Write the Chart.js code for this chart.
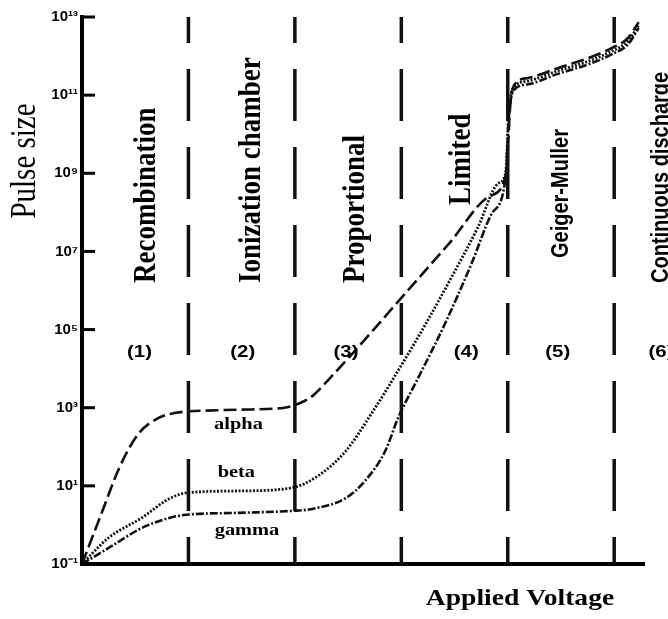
<!DOCTYPE html>
<html><head><meta charset="utf-8">
<script src="https://cdn.jsdelivr.net/npm/chart.js@4/dist/chart.umd.min.js"></script>
<style>html,body{margin:0;padding:0;background:#fff}</style>
</head><body>
<canvas id="c" width="668" height="619"></canvas>
<script>
// ---- data ----
const regionNames = ['Recombination','Ionization chamber','Proportional','Limited','Geiger-Muller','Continuous discharge'];
const regionNumbers = ['(1)','(2)','(3)','(4)','(5)','(6)'];
const boundaries = [1,2,3,4,5];
const tickValues = [0.1,10,1e3,1e5,1e7,1e9,1e11,1e13];
const tickLabels = ['10\u207B\u00B9','10\u00B9','10\u00B3','10\u2075','10\u2077','10\u2079','10\u00B9\u00B9','10\u00B9\u00B3'];
const seriesNames = ['alpha','beta','gamma'];

const alphaX = [0,0.19,0.35,0.53,0.72,0.88,0.98,1.47,1.90,2.05,2.17,2.33,2.52,2.99,3.46,3.83,3.99,4.02,4.06,4.19,4.47,4.76,4.98,5.13,5.23];
const alphaY = [0.1,2.2,28.8,214,550,741,794,891,1000,1320,2040,5750,2.1e4,6.0e5,1.74e7,2.6e8,1.07e9,4.2e10,1.8e11,2.75e11,4.9e11,8.9e11,1.62e12,2.9e12,7.4e12];
const betaX = [0,0.25,0.56,0.82,0.98,1.47,1.97,2.22,2.48,2.72,2.97,3.23,3.47,3.72,3.91,3.98,4.01,4.05,4.19,4.47,4.76,4.98,5.13,5.23];
const betaY = [0.1,0.47,1.51,4.68,6.6,7.4,8.9,18.2,79,708,8900,141000,2.14e6,4.17e7,5.5e8,1.0e9,3.5e10,1.5e11,2.3e11,4.2e11,7.4e11,1.35e12,2.4e12,6.2e12];
const gammaX = [0,0.25,0.56,0.82,0.98,1.47,1.97,2.16,2.48,2.66,2.85,2.97,3.16,3.41,3.66,3.85,3.98,4.01,4.05,4.19,4.47,4.76,4.98,5.13,5.23];
const gammaY = [0.1,0.257,0.83,1.51,1.82,2.04,2.29,2.57,4.9,13.5,79,550,5900,141000,4.9e6,9.3e7,7.9e8,2.75e10,1.26e11,1.9e11,3.5e11,6.2e11,1.12e12,2.0e12,5.2e12];

// ---- build ----
const pts = (xs, ys) => xs.map((x,i)=>({x:x, y:ys[i]}));
const boundarySets = boundaries.map(b => ({
  data:[{x:b,y:1e13},{x:b,y:0.1}],
  borderColor:'#111', borderWidth:3.5, borderDash:[52,26], borderDashOffset:26,
  pointRadius:0, tension:0
}));
const curve = (name, xs, ys, dash, w) => ({
  label:name, data:pts(xs,ys), borderColor:'#111', borderWidth:w, borderDash:dash,
  pointRadius:0, cubicInterpolationMode:'monotone', fill:false
});

const serif = 'Liberation Serif, Times New Roman, serif';
const sans = 'Liberation Sans, Arial, sans-serif';

const annot = {
  id:'annot',
  afterDraw(chart){
    const {ctx, chartArea:a, scales:{x,y}} = chart;
    ctx.save();
    ctx.fillStyle='#000'; ctx.strokeStyle='#000';
    // inner tick marks
    ctx.lineWidth=3;
    y.ticks.forEach(t=>{
      const py=y.getPixelForValue(t.value);
      ctx.beginPath(); ctx.moveTo(a.left, py); ctx.lineTo(a.left+13, py); ctx.stroke();
    });
    function txt(s, px, py, font, rot, align, sx){
      ctx.save(); ctx.translate(px,py); ctx.scale(sx,1);
      if(rot) ctx.rotate(-Math.PI/2);
      ctx.font=font; ctx.textAlign=align; ctx.textBaseline='middle';
      ctx.fillText(s,0,0); ctx.restore();
    }
    // region names (rotated)
    const rx=[0.61,1.59,2.57,3.57,4.5,5.44];
    const rb=[283,283,283,205,258,283];
    regionNames.forEach((n,i)=>{
      const f = i>=4 ? 'bold 20px '+sans : 'bold 27px '+serif;
      txt(n, x.getPixelForValue(rx[i]), rb[i], f, true, 'left', 1.2);
    });
    // region numbers
    const nx=[0.54,1.51,2.48,3.61,4.47,5.44];
    regionNumbers.forEach((n,i)=>{
      txt(n, x.getPixelForValue(nx[i]), 352, 'bold 17px '+sans, false, 'center', 1.2);
    });
    // series labels
    const sl=[[1.47,425],[1.45,473],[1.55,531]];
    seriesNames.forEach((n,i)=>{
      txt(n, x.getPixelForValue(sl[i][0]), sl[i][1], 'bold 17px '+serif, false, 'center', 1.2);
    });
    // axis titles
    txt('Pulse size', 26, 161, '29px '+serif, true, 'center', 1.2);
    txt('Applied Voltage', 520, 599, 'bold 23px '+serif, false, 'center', 1.2);
    ctx.restore();
  }
};

new Chart(document.getElementById('c'), {
  type:'line',
  data:{ datasets:[
    ...boundarySets,
    curve('alpha', alphaX, alphaY, [13,5], 2.6),
    curve('beta', betaX, betaY, [2,1.6], 2.8),
    curve('gamma', gammaX, gammaY, [8,2,2,2], 2.6)
  ]},
  options:{
    responsive:false, animation:false, devicePixelRatio:1,
    layout:{padding:{top:17,right:24,left:0,bottom:0}},
    plugins:{legend:{display:false}, tooltip:{enabled:false}},
    scales:{
      x:{type:'linear', min:0, max:5.28,
         ticks:{display:false}, grid:{display:false, drawTicks:false},
         border:{display:true, width:4, color:'#000'},
         afterFit:(s)=>{ s.height=55; }},
      y:{type:'logarithmic', min:0.1, max:1e13,
         afterBuildTicks:(s)=>{ s.ticks = tickValues.map(v=>({value:v})); },
         ticks:{autoSkip:false, padding:4, color:'#000',
                font:{family:sans, weight:'bold', size:15},
                callback:(v,i)=>tickLabels[i]},
         grid:{display:false, drawTicks:false},
         border:{display:true, width:4, color:'#000'},
         afterFit:(s)=>{ s.width=82; }}
    }
  },
  plugins:[annot]
});
</script>
</body></html>
